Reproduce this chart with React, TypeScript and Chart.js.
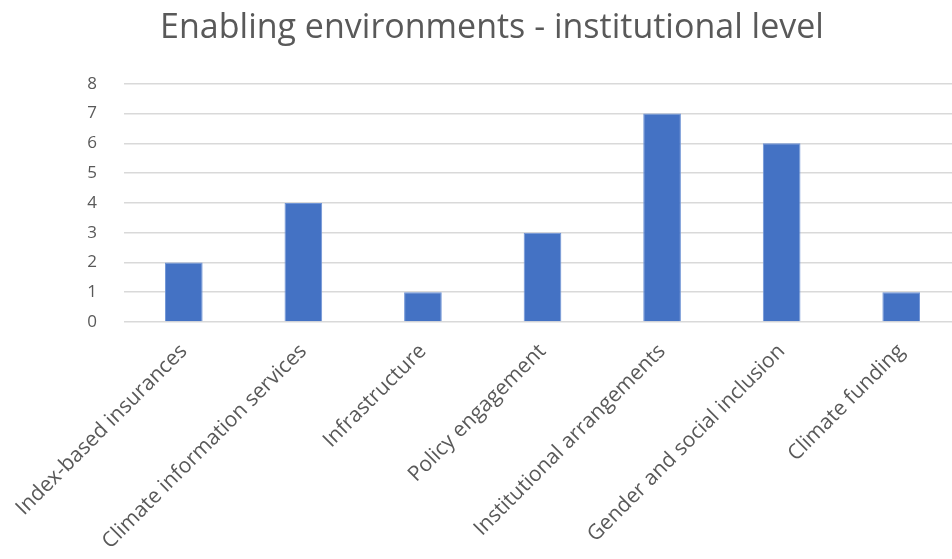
import React, { useEffect, useRef } from "react";
import { Chart, registerables } from "chart.js";

Chart.register(...registerables);

const titleText = "Enabling environments - institutional level";
const categories = [
  "Index-based insurances",
  "Climate information services",
  "Infrastructure",
  "Policy engagement",
  "Institutional arrangements",
  "Gender and social inclusion",
  "Climate funding",
];
const values = [2, 4, 1, 3, 7, 6, 1];
const yMin = 0;
const yMax = 8;
const yStep = 1;

const FONT = "'Open Sans', Lato, 'Liberation Sans', sans-serif";
const GRAY = "#595959";

export default function App() {
  const ref = useRef<HTMLCanvasElement | null>(null);

  useEffect(() => {
    if (!ref.current) return;
    const chart = new Chart(ref.current, {
      type: "bar",
      data: {
        labels: categories,
        datasets: [
          {
            data: values,
            backgroundColor: "#4472C4",
            borderColor: "#6f94d6",
            borderWidth: 1,
            barPercentage: 0.315,
            categoryPercentage: 1,
          },
        ],
      },
      options: {
        responsive: false,
        animation: false,
        layout: { padding: 0 },
        plugins: {
          legend: { display: false },
          tooltip: { enabled: false },
          title: {
            display: true,
            text: titleText,
            color: GRAY,
            font: { family: FONT, size: 34, weight: "normal" },
            padding: { top: 8, bottom: 35 },
          },
        },
        scales: {
          x: {
            grid: { display: false, drawTicks: false },
            border: { display: false },
            ticks: {
              color: GRAY,
              font: { family: FONT, size: 21 },
              maxRotation: 45,
              minRotation: 45,
              padding: 17,
              autoSkip: false,
            },
            afterFit: (scale: any) => {
              scale.height = 237;
              scale.paddingLeft = 0;
              scale.paddingRight = 23;
            },
          },
          y: {
            min: yMin,
            max: yMax,
            grid: { color: "#d9d9d9", lineWidth: 1.5, drawTicks: false },
            border: { display: false },
            ticks: {
              stepSize: yStep,
              color: GRAY,
              font: { family: FONT, size: 17 },
              padding: 27,
            },
            afterFit: (scale: any) => {
              scale.width = 124;
            },
          },
        },
      },
    });
    return () => chart.destroy();
  }, []);

  return (
    <div
      style={{
        position: "absolute",
        left: 0,
        top: 0,
        width: 952,
        height: 559,
        overflow: "hidden",
        background: "#fff",
      }}
    >
      <canvas ref={ref} width={984} height={559} style={{ display: "block" }} />
    </div>
  );
}
